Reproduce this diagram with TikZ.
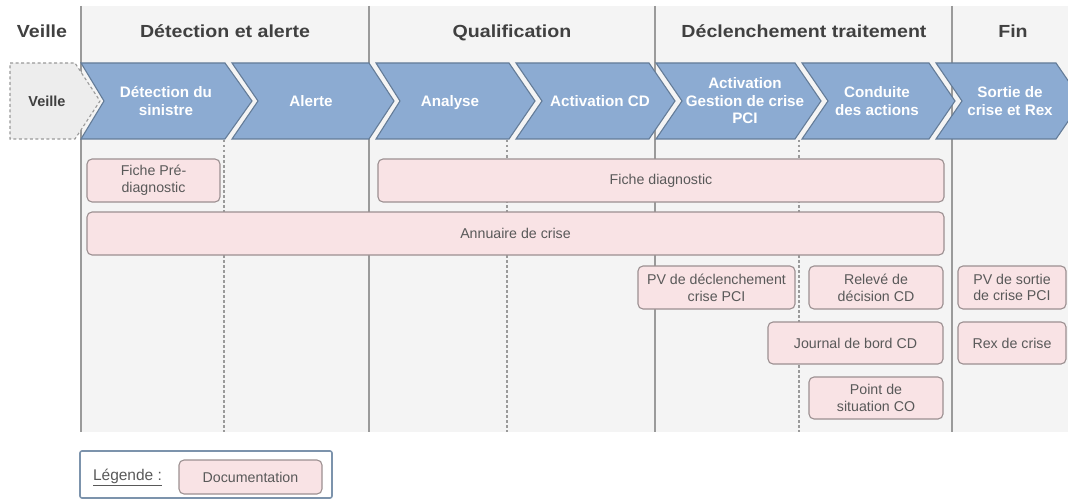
\documentclass[tikz,border=0pt]{standalone}
\usepackage{fontspec}
\setmainfont{Liberation Sans}
\newfontfamily\hdfont{Liberation Sans}[FakeStretch=1.12]
\definecolor{bggray}{HTML}{F4F4F4}
\definecolor{linegray}{HTML}{9A9A9A}
\definecolor{hdgray}{HTML}{404040}
\definecolor{chevfill}{HTML}{8CABD2}
\definecolor{chevborder}{HTML}{647C98}
\definecolor{docfill}{HTML}{F9E3E5}
\definecolor{docborder}{HTML}{9C9091}
\definecolor{doctext}{HTML}{595959}
\definecolor{legborder}{HTML}{7C93AC}
\definecolor{veillefill}{HTML}{EDEDED}
\tikzset{
  hdr/.style={font=\hdfont\bfseries\fontsize{17.5}{20}\selectfont, text=hdgray, inner sep=0pt, text height=12.5pt, text depth=0pt},
  chevshape/.style={fill=chevfill, draw=chevborder, line width=1.1pt, line join=miter},
  chevtext/.style={font=\bfseries\fontsize{15.2}{17.5}\selectfont, text=white, align=center, inner sep=0pt},
  chevone/.style={chevtext, text height=11pt, text depth=0pt},
  solidsep/.style={draw=linegray, line width=1.4pt},
  dashsep/.style={draw=linegray, line width=1.4pt, dash pattern=on 2.5pt off 2.5pt},
  doc/.style={draw=docborder, fill=docfill, rounded corners=5pt, line width=1.1pt,
    font=\fontsize{14.2}{16.8}\selectfont, text=doctext, align=center, inner sep=0pt},
}
\begin{document}
\begin{tikzpicture}[x=1pt, y=-1pt]
\useasboundingbox (0,0) rectangle (1068,500);
% background
\fill[bggray] (81,6) rectangle (1068,432);
% coordinates for separators
\coordinate (s1t) at (81,6);   \coordinate (s1b) at (81,432);
\coordinate (s2t) at (369,6);  \coordinate (s2b) at (369,432);
\coordinate (s3t) at (655,6);  \coordinate (s3b) at (655,432);
\coordinate (s4t) at (952,6);  \coordinate (s4b) at (952,432);
\coordinate (d1t) at (224,140); \coordinate (d1b) at (224,432);
\coordinate (d2t) at (507,140); \coordinate (d2b) at (507,432);
\coordinate (d3t) at (799,140); \coordinate (d3b) at (799,432);
\draw[solidsep] (s1t) -- (s1b);
\draw[solidsep] (s2t) -- (s2b);
\draw[solidsep] (s3t) -- (s3b);
\draw[solidsep] (s4t) -- (s4b);
\draw[dashsep] (d1t) -- (d1b);
\draw[dashsep] (d2t) -- (d2b);
\draw[dashsep] (d3t) -- (d3b);
% headers
\node[hdr] (h0) at (42,31) {Veille};
\node[hdr] (h1) at (225,31) {Détection et alerte};
\node[hdr] (h2) at (512,31) {Qualification};
\node[hdr] (h3) at (804,31) {Déclenchement traitement};
\node[hdr] (h4) at (1013,31) {Fin};
% veille dashed chevron
\draw[fill=veillefill, draw=linegray, line width=1.1pt, dash pattern=on 3pt off 2.5pt]
  (10,63) -- (75,63) -- (100,101) -- (75,139) -- (10,139) -- cycle;
\node[chevone, text=hdgray, font=\bfseries\fontsize{14.5}{17.5}\selectfont] (veille) at (47,101) {Veille};
% chevrons
\draw[chevshape] (81,63) -- (225,63) -- (252,101) -- (225,139) -- (81,139) -- (104,101) -- cycle;
\draw[chevshape] (232,63) -- (369,63) -- (394,101) -- (369,139) -- (232,139) -- (258,101) -- cycle;
\draw[chevshape] (376,63) -- (509,63) -- (535,101) -- (509,139) -- (376,139) -- (400,101) -- cycle;
\draw[chevshape] (516,63) -- (649,63) -- (675,101) -- (649,139) -- (516,139) -- (542,101) -- cycle;
\draw[chevshape] (656,63) -- (795,63) -- (821,101) -- (795,139) -- (656,139) -- (682,101) -- cycle;
\draw[chevshape] (802,63) -- (929,63) -- (955,101) -- (929,139) -- (802,139) -- (828,101) -- cycle;
\draw[chevshape] (936,63) -- (1056,63) -- (1082,101) -- (1056,139) -- (936,139) -- (962,101) -- cycle;
\node[chevtext] (c1) at (166,101) {Détection du\\sinistre};
\node[chevone] (c2) at (311,101) {Alerte};
\node[chevone] (c3) at (450,101) {Analyse};
\node[chevone] (c4) at (600,101) {Activation CD};
\node[chevtext] (c5) at (745,101) {Activation\\Gestion de crise\\PCI};
\node[chevtext] (c6) at (877,101) {Conduite\\des actions};
\node[chevtext] (c7) at (1010,101) {Sortie de\\crise et Rex};
% documentation boxes
\node[doc, minimum width=133, minimum height=43] (fpd) at (153.5,180.5) {Fiche Pré-\\diagnostic};
\node[doc, minimum width=566, minimum height=43] (fd) at (661,180.5) {Fiche diagnostic};
\node[doc, minimum width=857, minimum height=43] (adc) at (515.5,233.5) {Annuaire de crise};
\node[doc, minimum width=157, minimum height=43] (pvd) at (716.5,287.5) {PV de déclenchement\\crise PCI};
\node[doc, minimum width=134, minimum height=43] (rdc) at (876,287.5) {Relevé de\\décision CD};
\node[doc, minimum width=108, minimum height=43] (pvs) at (1012,287.5) {PV de sortie\\de crise PCI};
\node[doc, minimum width=175, minimum height=42] (jdb) at (855.5,343) {Journal de bord CD};
\node[doc, minimum width=108, minimum height=42] (rex) at (1012,343) {Rex de crise};
\node[doc, minimum width=134, minimum height=42] (pds) at (876,398) {Point de\\situation CO};
% legend
\node[draw=legborder, line width=1.6pt, rounded corners=2pt, minimum width=252, minimum height=47, inner sep=0pt] (leg) at (206,474.5) {};
\node[font=\fontsize{15.5}{18}\selectfont, text=doctext, inner sep=0pt] (legt) at (127.5,477) {\underline{Légende :}};
\node[doc, minimum width=143, minimum height=34] (legd) at (250.5,477) {Documentation};
\end{tikzpicture}
\end{document}
